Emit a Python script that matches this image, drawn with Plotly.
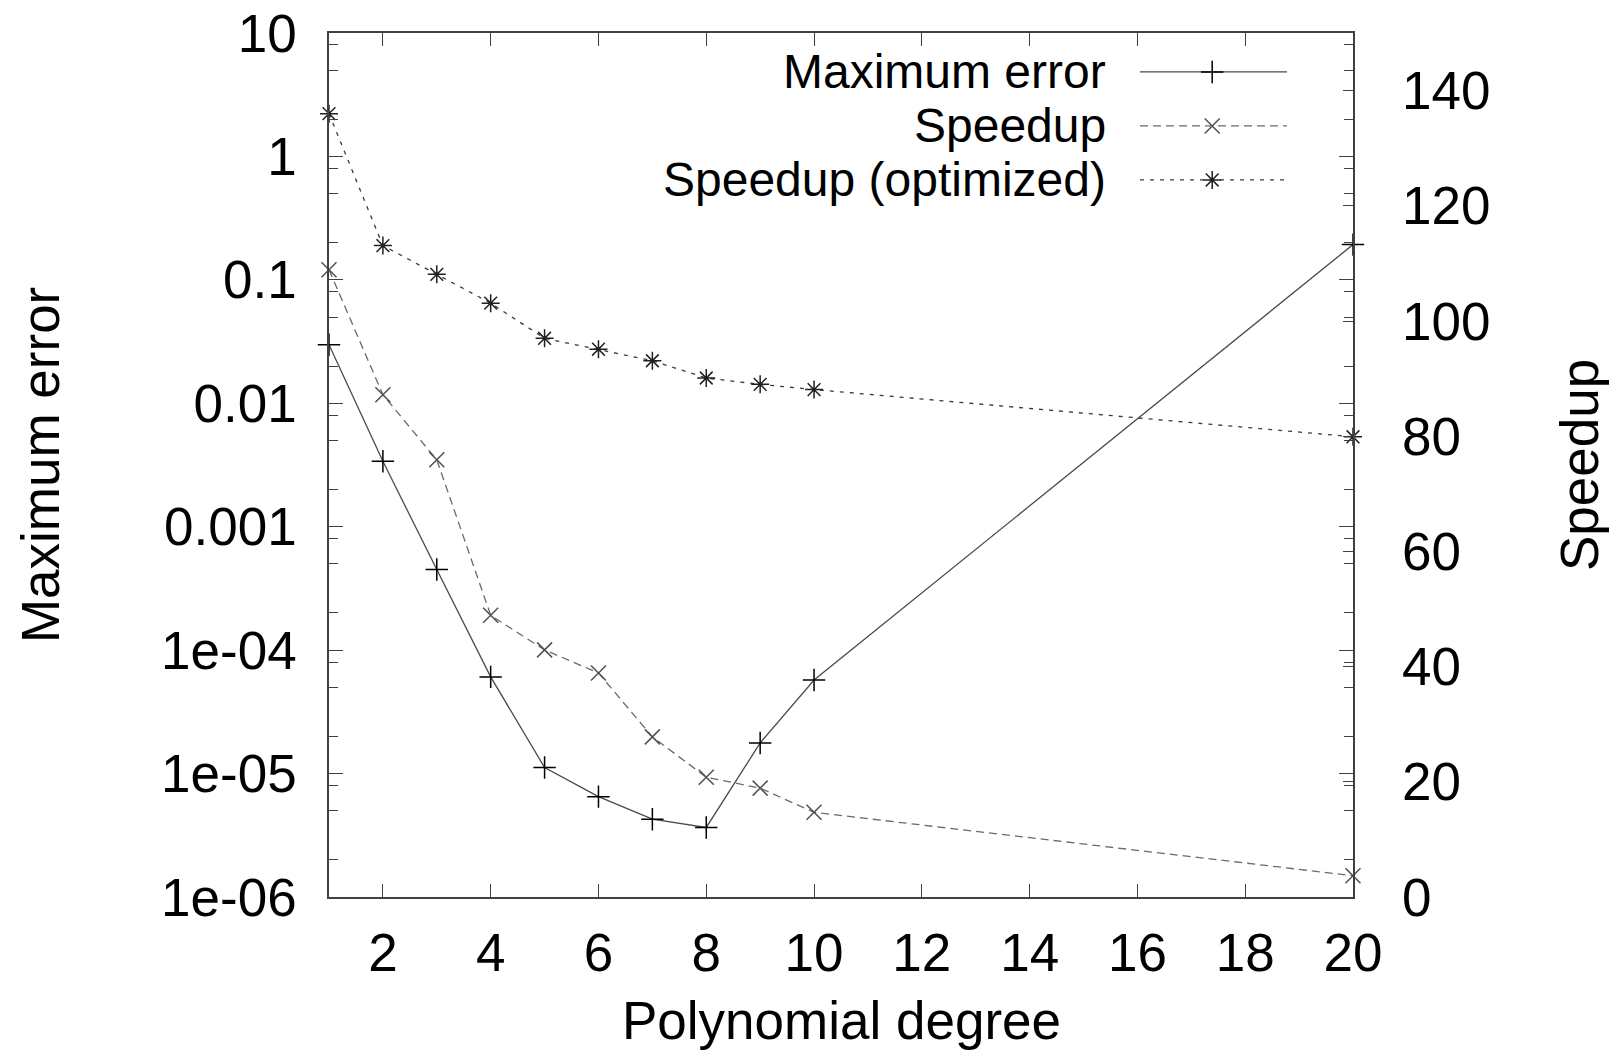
import plotly.graph_objects as go

# ---- data ----
degree = [1, 2, 3, 4, 5, 6, 7, 8, 9, 10, 20]
max_error = [0.0298, 0.00339, 4.50e-4, 6.07e-5, 1.12e-5, 6.5e-6, 4.27e-6, 3.66e-6, 1.77e-5, 5.73e-5, 0.193]
speedup = [108.9, 87.2, 75.9, 48.9, 42.9, 38.9, 27.8, 20.8, 18.9, 14.7, 3.7]
speedup_opt = [136.0, 113.1, 108.1, 103.1, 97.0, 95.1, 93.1, 90.1, 89.0, 88.1, 79.9]

x_ticks = [2, 4, 6, 8, 10, 12, 14, 16, 18, 20]
y_ticks = [1e-6, 1e-5, 1e-4, 1e-3, 1e-2, 1e-1, 1, 10]
y_ticktext = ["1e-06", "1e-05", "1e-04", "0.001", "0.01", "0.1", "1", "10"]
y_minor = [m * 10.0 ** e for e in range(-6, 1) for m in (2, 5, 8)]
y2_ticks = [0, 20, 40, 60, 80, 100, 120, 140]

series_names = ["Maximum error", "Speedup", "Speedup (optimized)"]

FONT = "Liberation Sans, Arial, sans-serif"
FS = 53
FS_LEG = 48
AX = "#404040"

styles = [
    dict(line=dict(color="#4a4a4a", width=1.3, dash="solid"),
         marker=dict(symbol="cross-thin", size=16, color="black", line=dict(color="black", width=1.5))),
    dict(line=dict(color="#6a6a6a", width=1.3, dash="8px,5px"),
         marker=dict(symbol="x-thin", size=15, color="#505050", line=dict(color="#505050", width=1.5))),
    dict(line=dict(color="#3a3a3a", width=1.3, dash="4px,6px"),
         marker=dict(symbol="asterisk", size=15, color="#202020", line=dict(color="#202020", width=1.5))),
]

fig = go.Figure()
fig.add_trace(go.Scatter(x=degree, y=max_error, mode="lines+markers", name=series_names[0],
                         yaxis="y", cliponaxis=False, showlegend=False, **styles[0]))
fig.add_trace(go.Scatter(x=degree, y=speedup, mode="lines+markers", name=series_names[1],
                         yaxis="y2", cliponaxis=False, showlegend=False, **styles[1]))
fig.add_trace(go.Scatter(x=degree, y=speedup_opt, mode="lines+markers", name=series_names[2],
                         yaxis="y2", cliponaxis=False, showlegend=False, **styles[2]))

# ---- custom legend (text left, key on right, as in gnuplot) ----
leg_text_x = 0.760
leg_key_x0, leg_key_xm, leg_key_x1 = 0.792, 0.8625, 0.9355
leg_rows = [0.9549, 0.8924, 0.8299]
annotations = []
for name, st, yy in zip(series_names, styles, leg_rows):
    fig.add_trace(go.Scatter(x=[leg_key_x0, leg_key_x1], y=[yy, yy], mode="lines",
                             xaxis="x3", yaxis="y3", line=st["line"], showlegend=False,
                             hoverinfo="skip", cliponaxis=False))
    fig.add_trace(go.Scatter(x=[leg_key_xm], y=[yy], mode="markers",
                             xaxis="x3", yaxis="y3", marker=st["marker"], showlegend=False,
                             hoverinfo="skip", cliponaxis=False))
    annotations.append(dict(x=leg_text_x, y=yy, xref="paper", yref="paper", text=name,
                            showarrow=False, xanchor="right", yanchor="middle", borderpad=0,
                            font=dict(family=FONT, size=FS_LEG, color="black")))

annotations += [
    dict(x=0.5, y=-0.1425, xref="paper", yref="paper", text="Polynomial degree", showarrow=False,
         xanchor="center", yanchor="middle", borderpad=0,
         font=dict(family=FONT, size=FS, color="black")),
    dict(x=-0.2822, y=0.5, xref="paper", yref="paper", text="Maximum error", showarrow=False,
         textangle=-90, xanchor="center", yanchor="middle", font=dict(family=FONT, size=FS, color="black")),
    dict(x=1.2207, y=0.5, xref="paper", yref="paper", text="Speedup", showarrow=False,
         textangle=-90, xanchor="center", yanchor="middle", font=dict(family=FONT, size=FS, color="black")),
]

tickfont = dict(family=FONT, size=FS, color="black")

fig.update_layout(
    width=1616, height=1052,
    margin=dict(l=329, r=263, t=33, b=155, pad=0),
    paper_bgcolor="white", plot_bgcolor="white",
    showlegend=False,
    annotations=annotations,
    xaxis=dict(range=[1, 20], tickmode="array", tickvals=x_ticks, ticks="inside", ticklen=13,
               tickwidth=1.3, tickcolor=AX, showline=True, linecolor=AX, linewidth=1.5,
               mirror="ticks", showgrid=False, zeroline=False, tickfont=tickfont,
               ticklabelstandoff=9, automargin=False),
    yaxis=dict(type="log", range=[-6, 1], tickmode="array", tickvals=y_ticks, ticktext=y_ticktext,
               ticks="inside", ticklen=14, tickwidth=1.3, tickcolor=AX, showline=True, linecolor=AX,
               linewidth=1.5, mirror="ticks", showgrid=False, zeroline=False, tickfont=tickfont,
               ticklabelstandoff=20, automargin=False,
               minor=dict(tickmode="array", tickvals=y_minor, ticks="inside", ticklen=9,
                          tickwidth=1.3, tickcolor=AX, showgrid=False)),
    yaxis2=dict(overlaying="y", side="right", range=[0, 150], tickmode="array", tickvals=y2_ticks,
                ticks="inside", ticklen=10, tickwidth=1.3, tickcolor=AX, showline=False,
                showgrid=False, zeroline=False, tickfont=tickfont, ticklabelstandoff=48,
                automargin=False),
    xaxis3=dict(overlaying="x", range=[0, 1], visible=False, fixedrange=True),
    yaxis3=dict(overlaying="y", range=[0, 1], visible=False, fixedrange=True),
)

fig.write_html("out.html")
